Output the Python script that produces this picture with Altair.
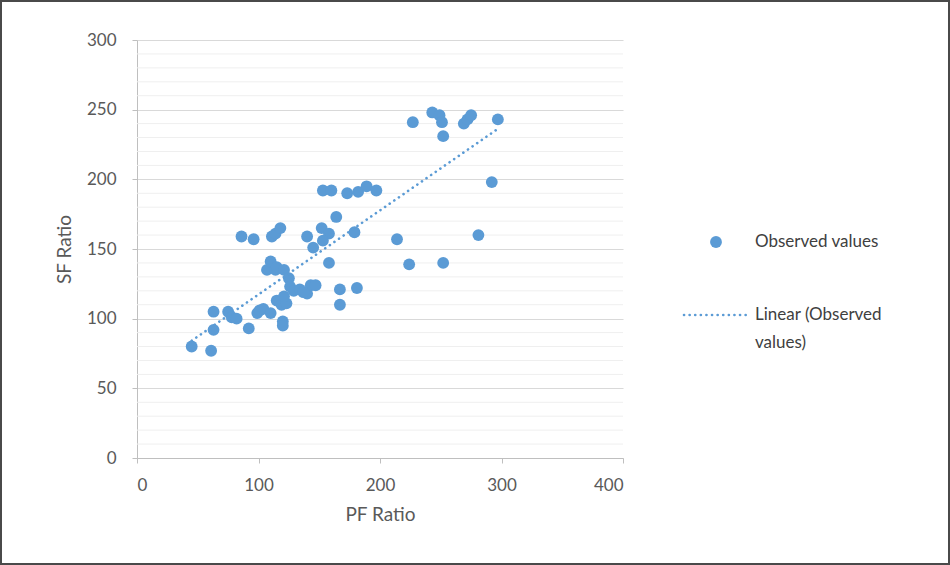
import altair as alt
import pandas as pd

pf_ratio = [45, 61, 63, 63, 75, 78, 82, 86, 96, 92, 99, 101, 104, 110, 107, 110, 114, 115,
            121, 111, 114, 118, 115, 119, 123, 121, 120, 120, 125, 126, 129, 134, 140, 143,
            147, 137, 140, 145, 152, 158, 153, 158, 164, 153, 160, 173, 182, 189, 197, 167,
            167, 181, 179, 214, 224, 227, 243, 249, 251, 252, 252, 269, 272, 275, 297, 292, 281]
sf_ratio = [80, 77, 105, 92, 105, 101, 100, 159, 157, 93, 104, 106, 107, 104, 135, 141, 135, 137,
            135, 159, 161, 165, 113, 110, 111, 116, 98, 95, 129, 123, 120, 121, 118, 124,
            124, 119, 159, 151, 165, 161, 156, 140, 173, 192, 192, 190, 191, 195, 192, 121,
            110, 122, 162, 157, 139, 241, 248, 246, 241, 231, 140, 240, 243, 246, 243, 198, 160]

x_ticks = [0, 100, 200, 300, 400]
y_ticks = [0, 50, 100, 150, 200, 250, 300]
minor_y = [v for v in range(10, 300, 10) if v % 50 != 0]

legend_labels = ["Observed values", "Linear (Observed", "values)"]

FONT = "Lato"
BLUE = "#5b9bd5"
W, H = 486, 418
PL, PT = 137, 40

df = pd.DataFrame({"pf": pf_ratio, "sf": sf_ratio})
minor_df = pd.DataFrame({"v": minor_y})
one = pd.DataFrame({"a": [0]})

xscale = alt.Scale(domain=[0, 400], nice=False, zero=False)
yscale = alt.Scale(domain=[0, 300], nice=False, zero=False)

xaxis = alt.Axis(values=x_ticks, grid=False, title="PF Ratio", labelFontSize=17,
                 labelColor="#595959", titleFontSize=19, titleColor="#595959",
                 titleFontWeight="normal", labelPadding=14, titlePadding=12,
                 tickColor="#bfbfbf", domainColor="#bfbfbf", tickSize=5, labelFont=FONT,
                 titleFont=FONT)
yaxis = alt.Axis(values=y_ticks, grid=True, gridColor="#d9d9d9", title="SF Ratio",
                 labelFontSize=17, labelColor="#595959", titleFontSize=19,
                 titleColor="#595959", titleFontWeight="normal", labelPadding=16,
                 titlePadding=12, tickColor="#bfbfbf", domainColor="#bfbfbf", tickSize=5,
                 labelFont=FONT, titleFont=FONT)

minor = alt.Chart(minor_df).mark_rule(color="#efefef", strokeWidth=1).encode(
    y=alt.Y("v:Q", scale=yscale, axis=yaxis)
)

points = alt.Chart(df).mark_circle(size=140, color=BLUE, opacity=1).encode(
    x=alt.X("pf:Q", scale=xscale, axis=xaxis),
    y=alt.Y("sf:Q", scale=yscale, axis=yaxis),
)

trend = alt.Chart(df).transform_regression("pf", "sf").mark_line(
    color=BLUE, strokeWidth=2.6, strokeDash=[0.1, 5.5], strokeCap="round"
).encode(
    x=alt.X("pf:Q", scale=xscale, axis=xaxis),
    y=alt.Y("sf:Q", scale=yscale, axis=yaxis),
)

# legend
leg_dot = alt.Chart(one).mark_circle(size=140, color=BLUE, opacity=1).encode(
    x=alt.value(716 - PL), y=alt.value(242 - PT)
)
leg_line = alt.Chart(one).mark_rule(
    color=BLUE, strokeWidth=2.6, strokeDash=[0.1, 5.5], strokeCap="round"
).encode(x=alt.value(684 - PL), x2=alt.value(750 - PL), y=alt.value(315 - PT))
leg_t1 = alt.Chart(one).mark_text(
    text=legend_labels[0], align="left", baseline="middle", font=FONT, fontSize=17,
    color="#404040"
).encode(x=alt.value(755 - PL), y=alt.value(242 - PT))
leg_t2 = alt.Chart(one).mark_text(
    text=legend_labels[1], align="left", baseline="middle", font=FONT, fontSize=17,
    color="#404040"
).encode(x=alt.value(755 - PL), y=alt.value(315 - PT))
leg_t3 = alt.Chart(one).mark_text(
    text=legend_labels[2], align="left", baseline="middle", font=FONT, fontSize=17,
    color="#404040"
).encode(x=alt.value(755 - PL), y=alt.value(343 - PT))

border = alt.Chart(one).mark_rect(fill=None, stroke="#4a4a4a", strokeWidth=2).encode(
    x=alt.value(-PL + 1), x2=alt.value(950 - PL - 1),
    y=alt.value(-PT + 1), y2=alt.value(565 - PT - 1)
)

chart = alt.layer(
    minor, points, trend, leg_dot, leg_line, leg_t1, leg_t2, leg_t3, border
).properties(
    width=W, height=H,
    autosize=alt.AutoSizeParams(type="none"),
    padding={"left": PL, "top": PT, "right": 950 - PL - W, "bottom": 565 - PT - H},
    background="white",
).configure_view(stroke=None)

chart.save("out.html", embed_options={"renderer": "svg", "actions": False})
